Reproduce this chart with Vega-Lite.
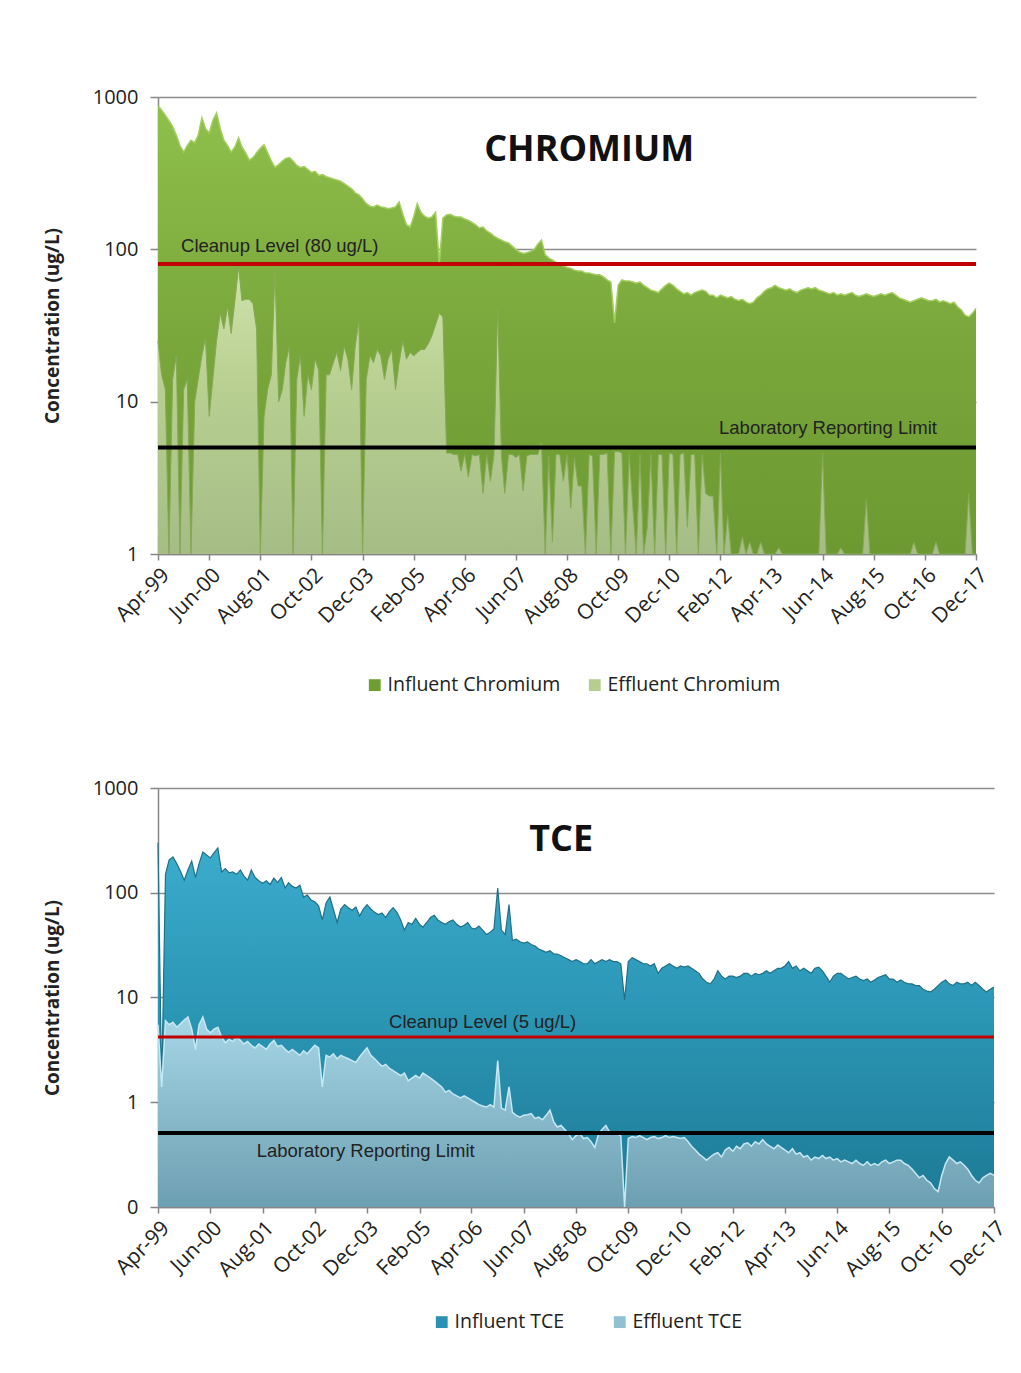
{
"$schema": "https://vega.github.io/schema/vega-lite/v6.json",
"background": "white",
"padding": {"left": 43, "top": 87, "right": 5, "bottom": 5},
"spacing": 83,
"resolve": {"scale": {"color": "independent"}},
"config": {
  "view": {"stroke": null},
  "font": "Open Sans",
  "axis": {"labelFont": "Open Sans", "labelFontSize": 20, "labelColor": "#222222", "titleFont": "Open Sans", "titleFontSize": 19, "titleFontWeight": "bold", "titleColor": "#222222", "domainColor": "#868686", "domainWidth": 1.5, "tickColor": "#868686", "tickWidth": 1.5, "gridColor": "#8c8c8c", "gridWidth": 1.5},
  "legend": {"labelFont": "Open Sans", "labelFontSize": 19.5, "labelColor": "#222222", "labelLimit": 400}
},
"datasets": {"main": [
{"d":"1999/04/01","ci":880,"ce":25,"ti":300,"te":5.5},
{"d":"1999/05/01","ci":820,"ce":15,"ti":1.4,"te":1.4},
{"d":"1999/06/01","ci":760,"ce":12,"ti":150,"te":6.0},
{"d":"1999/07/01","ci":700,"ce":1,"ti":206,"te":5.5},
{"d":"1999/08/01","ci":640,"ce":14,"ti":220,"te":5.8},
{"d":"1999/09/01","ci":560,"ce":20,"ti":190,"te":5.2},
{"d":"1999/10/01","ci":480,"ce":1,"ti":160,"te":5.6},
{"d":"1999/11/01","ci":435,"ce":12,"ti":132,"te":6.1},
{"d":"1999/12/01","ci":480,"ce":14,"ti":165,"te":6.5},
{"d":"2000/01/01","ci":520,"ce":1,"ti":200,"te":5.0},
{"d":"2000/02/01","ci":500,"ce":10,"ti":140,"te":3.2},
{"d":"2000/03/01","ci":560,"ce":14,"ti":190,"te":5.5},
{"d":"2000/04/01","ci":730,"ce":20,"ti":245,"te":6.5},
{"d":"2000/05/01","ci":620,"ce":26,"ti":230,"te":5.0},
{"d":"2000/06/01","ci":580,"ce":8,"ti":215,"te":4.6},
{"d":"2000/07/01","ci":700,"ce":14,"ti":240,"te":5.0},
{"d":"2000/08/01","ci":785,"ce":25,"ti":268,"te":5.2},
{"d":"2000/09/01","ci":620,"ce":38,"ti":158,"te":4.2},
{"d":"2000/10/01","ci":520,"ce":30,"ti":170,"te":3.7},
{"d":"2000/11/01","ci":480,"ce":42,"ti":155,"te":4.0},
{"d":"2000/12/01","ci":435,"ce":28,"ti":158,"te":3.8},
{"d":"2001/01/01","ci":470,"ce":46,"ti":150,"te":4.2},
{"d":"2001/02/01","ci":540,"ce":77,"ti":165,"te":3.9},
{"d":"2001/03/01","ci":470,"ce":46,"ti":145,"te":3.6},
{"d":"2001/04/01","ci":430,"ce":47,"ti":132,"te":3.8},
{"d":"2001/05/01","ci":385,"ce":47,"ti":165,"te":3.5},
{"d":"2001/06/01","ci":400,"ce":44,"ti":140,"te":3.3},
{"d":"2001/07/01","ci":430,"ce":30,"ti":130,"te":3.6},
{"d":"2001/08/01","ci":460,"ce":1,"ti":123,"te":3.4},
{"d":"2001/09/01","ci":485,"ce":8,"ti":130,"te":3.2},
{"d":"2001/10/01","ci":430,"ce":12,"ti":120,"te":3.6},
{"d":"2001/11/01","ci":380,"ce":15,"ti":138,"te":3.9},
{"d":"2001/12/01","ci":345,"ce":73,"ti":125,"te":3.4},
{"d":"2002/01/01","ci":360,"ce":10,"ti":140,"te":3.5},
{"d":"2002/02/01","ci":380,"ce":12,"ti":111,"te":3.2},
{"d":"2002/03/01","ci":395,"ce":18,"ti":125,"te":3.0},
{"d":"2002/04/01","ci":400,"ce":23,"ti":115,"te":3.2},
{"d":"2002/05/01","ci":380,"ce":1,"ti":111,"te":3.0},
{"d":"2002/06/01","ci":355,"ce":14,"ti":118,"te":2.8},
{"d":"2002/07/01","ci":345,"ce":20,"ti":91,"te":3.1},
{"d":"2002/08/01","ci":350,"ce":8,"ti":95,"te":2.9},
{"d":"2002/09/01","ci":335,"ce":15,"ti":85,"te":3.2},
{"d":"2002/10/01","ci":320,"ce":12,"ti":82,"te":3.5},
{"d":"2002/11/01","ci":325,"ce":19,"ti":75,"te":3.3},
{"d":"2002/12/01","ci":305,"ce":16,"ti":55,"te":1.4},
{"d":"2003/01/01","ci":310,"ce":1,"ti":80,"te":2.8},
{"d":"2003/02/01","ci":300,"ce":15,"ti":91,"te":2.7},
{"d":"2003/03/01","ci":295,"ce":15,"ti":70,"te":2.9},
{"d":"2003/04/01","ci":290,"ce":18,"ti":52,"te":2.6},
{"d":"2003/05/01","ci":285,"ce":21,"ti":70,"te":2.8},
{"d":"2003/06/01","ci":280,"ce":16,"ti":77,"te":2.7},
{"d":"2003/07/01","ci":270,"ce":23,"ti":72,"te":2.6},
{"d":"2003/08/01","ci":260,"ce":19,"ti":68,"te":2.5},
{"d":"2003/09/01","ci":250,"ce":12,"ti":73,"te":2.4},
{"d":"2003/10/01","ci":235,"ce":23,"ti":60,"te":2.7},
{"d":"2003/11/01","ci":228,"ce":34,"ti":70,"te":3.0},
{"d":"2003/12/01","ci":215,"ce":1,"ti":77,"te":3.3},
{"d":"2004/01/01","ci":200,"ce":14,"ti":70,"te":2.8},
{"d":"2004/02/01","ci":192,"ce":20,"ti":65,"te":2.6},
{"d":"2004/03/01","ci":190,"ce":18,"ti":62,"te":2.4},
{"d":"2004/04/01","ci":195,"ce":22,"ti":64,"te":2.2},
{"d":"2004/05/01","ci":190,"ce":20,"ti":58,"te":2.3},
{"d":"2004/06/01","ci":188,"ce":14,"ti":66,"te":2.1},
{"d":"2004/07/01","ci":185,"ce":19,"ti":72,"te":2.0},
{"d":"2004/08/01","ci":187,"ce":22,"ti":65,"te":1.9},
{"d":"2004/09/01","ci":190,"ce":12,"ti":55,"te":1.8},
{"d":"2004/10/01","ci":205,"ce":18,"ti":44,"te":1.9},
{"d":"2004/11/01","ci":170,"ce":25,"ti":52,"te":1.6},
{"d":"2004/12/01","ci":145,"ce":19,"ti":50,"te":1.7},
{"d":"2005/01/01","ci":140,"ce":21,"ti":57,"te":1.8},
{"d":"2005/02/01","ci":165,"ce":20,"ti":50,"te":1.7},
{"d":"2005/03/01","ci":200,"ce":21,"ti":47,"te":1.9},
{"d":"2005/04/01","ci":175,"ce":22,"ti":52,"te":1.8},
{"d":"2005/05/01","ci":165,"ce":22,"ti":58,"te":1.7},
{"d":"2005/06/01","ci":160,"ce":24,"ti":61,"te":1.6},
{"d":"2005/07/01","ci":163,"ce":27,"ti":55,"te":1.5},
{"d":"2005/08/01","ci":175,"ce":32,"ti":52,"te":1.4},
{"d":"2005/09/01","ci":80,"ce":38,"ti":50,"te":1.25},
{"d":"2005/10/01","ci":160,"ce":36,"ti":53,"te":1.3},
{"d":"2005/11/01","ci":168,"ce":4.6,"ti":55,"te":1.2},
{"d":"2005/12/01","ci":170,"ce":4.6,"ti":50,"te":1.15},
{"d":"2006/01/01","ci":165,"ce":4.5,"ti":47,"te":1.1},
{"d":"2006/02/01","ci":163,"ce":4.5,"ti":49,"te":1.15},
{"d":"2006/03/01","ci":163,"ce":3.5,"ti":52,"te":1.1},
{"d":"2006/04/01","ci":158,"ce":4.5,"ti":46,"te":1.05},
{"d":"2006/05/01","ci":155,"ce":3.2,"ti":45,"te":1.0},
{"d":"2006/06/01","ci":150,"ce":4.5,"ti":48,"te":0.95},
{"d":"2006/07/01","ci":145,"ce":4.4,"ti":44,"te":0.92},
{"d":"2006/08/01","ci":138,"ce":4.5,"ti":40,"te":0.9},
{"d":"2006/09/01","ci":140,"ce":2.5,"ti":42,"te":0.95},
{"d":"2006/10/01","ci":132,"ce":4.5,"ti":45,"te":0.9},
{"d":"2006/11/01","ci":128,"ce":3,"ti":111,"te":2.5},
{"d":"2006/12/01","ci":122,"ce":4.5,"ti":44,"te":0.88},
{"d":"2007/01/01","ci":118,"ce":42,"ti":40,"te":0.84},
{"d":"2007/02/01","ci":115,"ce":4.4,"ti":77,"te":1.4},
{"d":"2007/03/01","ci":112,"ce":2.5,"ti":35,"te":0.8},
{"d":"2007/04/01","ci":110,"ce":4.5,"ti":36,"te":0.75},
{"d":"2007/05/01","ci":105,"ce":4.5,"ti":34,"te":0.72},
{"d":"2007/06/01","ci":100,"ce":4.3,"ti":33,"te":0.75},
{"d":"2007/07/01","ci":96,"ce":4.5,"ti":34,"te":0.76},
{"d":"2007/08/01","ci":94,"ce":2.6,"ti":32,"te":0.78},
{"d":"2007/09/01","ci":95,"ce":4.4,"ti":31,"te":0.7},
{"d":"2007/10/01","ci":97,"ce":4.5,"ti":29,"te":0.72},
{"d":"2007/11/01","ci":100,"ce":4.5,"ti":28,"te":0.68},
{"d":"2007/12/01","ci":108,"ce":4.5,"ti":27,"te":0.75},
{"d":"2008/01/01","ci":115,"ce":5.4,"ti":28,"te":0.84},
{"d":"2008/02/01","ci":92,"ce":1,"ti":26,"te":0.65},
{"d":"2008/03/01","ci":88,"ce":4.4,"ti":26,"te":0.58},
{"d":"2008/04/01","ci":85,"ce":1.2,"ti":25,"te":0.6},
{"d":"2008/05/01","ci":82,"ce":4.5,"ti":24,"te":0.55},
{"d":"2008/06/01","ci":80,"ce":4.5,"ti":23,"te":0.5},
{"d":"2008/07/01","ci":78,"ce":3,"ti":22,"te":0.44},
{"d":"2008/08/01","ci":76,"ce":4.5,"ti":23,"te":0.48},
{"d":"2008/09/01","ci":75,"ce":2,"ti":22,"te":0.5},
{"d":"2008/10/01","ci":73,"ce":4.3,"ti":21,"te":0.45},
{"d":"2008/11/01","ci":72,"ce":2.8,"ti":21,"te":0.46},
{"d":"2008/12/01","ci":72,"ce":2.8,"ti":23,"te":0.42},
{"d":"2009/01/01","ci":70,"ce":1,"ti":21,"te":0.37},
{"d":"2009/02/01","ci":70,"ce":4.5,"ti":22,"te":0.5},
{"d":"2009/03/01","ci":69,"ce":4.4,"ti":23,"te":0.55},
{"d":"2009/04/01","ci":68,"ce":1,"ti":22,"te":0.6},
{"d":"2009/05/01","ci":68,"ce":4.5,"ti":23,"te":0.52},
{"d":"2009/06/01","ci":66,"ce":4.5,"ti":22,"te":0.5},
{"d":"2009/07/01","ci":63,"ce":4.6,"ti":22,"te":0.5},
{"d":"2009/08/01","ci":61,"ce":1,"ti":21,"te":0.48},
{"d":"2009/09/01","ci":33,"ce":4.7,"ti":9.5,"te":0.1},
{"d":"2009/10/01","ci":58,"ce":4.7,"ti":22,"te":0.45},
{"d":"2009/11/01","ci":63,"ce":4.6,"ti":24,"te":0.47},
{"d":"2009/12/01","ci":62,"ce":1,"ti":23,"te":0.46},
{"d":"2010/01/01","ci":62,"ce":4.5,"ti":22,"te":0.48},
{"d":"2010/02/01","ci":61,"ce":2,"ti":21,"te":0.46},
{"d":"2010/03/01","ci":60,"ce":1,"ti":21,"te":0.44},
{"d":"2010/04/01","ci":61,"ce":4.5,"ti":20,"te":0.46},
{"d":"2010/05/01","ci":58,"ce":1,"ti":21,"te":0.47},
{"d":"2010/06/01","ci":56,"ce":1.5,"ti":17,"te":0.45},
{"d":"2010/07/01","ci":54,"ce":4.5,"ti":19,"te":0.46},
{"d":"2010/08/01","ci":53,"ce":1,"ti":20,"te":0.48},
{"d":"2010/09/01","ci":52,"ce":4.5,"ti":21,"te":0.46},
{"d":"2010/10/01","ci":55,"ce":4.5,"ti":20,"te":0.47},
{"d":"2010/11/01","ci":58,"ce":1,"ti":19,"te":0.46},
{"d":"2010/12/01","ci":60,"ce":4.6,"ti":20,"te":0.45},
{"d":"2011/01/01","ci":58,"ce":4.5,"ti":19.5,"te":0.46},
{"d":"2011/02/01","ci":55,"ce":1,"ti":20,"te":0.42},
{"d":"2011/03/01","ci":53,"ce":4.5,"ti":19,"te":0.38},
{"d":"2011/04/01","ci":51,"ce":4.6,"ti":18,"te":0.35},
{"d":"2011/05/01","ci":52,"ce":1.5,"ti":17,"te":0.32},
{"d":"2011/06/01","ci":50,"ce":4.5,"ti":15,"te":0.3},
{"d":"2011/07/01","ci":52,"ce":4.5,"ti":14,"te":0.28},
{"d":"2011/08/01","ci":53,"ce":1,"ti":13.5,"te":0.3},
{"d":"2011/09/01","ci":54,"ce":4.5,"ti":15,"te":0.32},
{"d":"2011/10/01","ci":53,"ce":2.5,"ti":18,"te":0.33},
{"d":"2011/11/01","ci":50,"ce":2.4,"ti":16,"te":0.3},
{"d":"2011/12/01","ci":50,"ce":2.4,"ti":15,"te":0.35},
{"d":"2012/01/01","ci":48,"ce":1,"ti":16,"te":0.37},
{"d":"2012/02/01","ci":50,"ce":4.6,"ti":16,"te":0.34},
{"d":"2012/03/01","ci":49,"ce":1,"ti":15.5,"te":0.38},
{"d":"2012/04/01","ci":48,"ce":1.8,"ti":16,"te":0.36},
{"d":"2012/05/01","ci":49,"ce":1,"ti":17,"te":0.4},
{"d":"2012/06/01","ci":47,"ce":1,"ti":17,"te":0.41},
{"d":"2012/07/01","ci":46,"ce":1,"ti":16,"te":0.38},
{"d":"2012/08/01","ci":47,"ce":1.3,"ti":17,"te":0.42},
{"d":"2012/09/01","ci":45,"ce":1,"ti":16.5,"te":0.4},
{"d":"2012/10/01","ci":44,"ce":1.2,"ti":17,"te":0.44},
{"d":"2012/11/01","ci":45,"ce":1,"ti":18,"te":0.4},
{"d":"2012/12/01","ci":48,"ce":1,"ti":17,"te":0.38},
{"d":"2013/01/01","ci":50,"ce":1.2,"ti":18,"te":0.36},
{"d":"2013/02/01","ci":53,"ce":1,"ti":19,"te":0.39},
{"d":"2013/03/01","ci":55,"ce":1,"ti":19,"te":0.37},
{"d":"2013/04/01","ci":56,"ce":1,"ti":20,"te":0.35},
{"d":"2013/05/01","ci":58,"ce":1,"ti":22,"te":0.33},
{"d":"2013/06/01","ci":56,"ce":1.1,"ti":19,"te":0.36},
{"d":"2013/07/01","ci":55,"ce":1,"ti":20,"te":0.32},
{"d":"2013/08/01","ci":54,"ce":1,"ti":18,"te":0.33},
{"d":"2013/09/01","ci":55,"ce":1,"ti":19,"te":0.3},
{"d":"2013/10/01","ci":53,"ce":1,"ti":18,"te":0.31},
{"d":"2013/11/01","ci":52,"ce":1,"ti":17,"te":0.28},
{"d":"2013/12/01","ci":54,"ce":1,"ti":19,"te":0.3},
{"d":"2014/01/01","ci":55,"ce":1,"ti":19.5,"te":0.29},
{"d":"2014/02/01","ci":56,"ce":1,"ti":18,"te":0.31},
{"d":"2014/03/01","ci":55,"ce":1,"ti":16,"te":0.29},
{"d":"2014/04/01","ci":56,"ce":1,"ti":14,"te":0.3},
{"d":"2014/05/01","ci":54,"ce":1,"ti":16,"te":0.28},
{"d":"2014/06/01","ci":53,"ce":4.6,"ti":17,"te":0.29},
{"d":"2014/07/01","ci":52,"ce":1,"ti":17,"te":0.27},
{"d":"2014/08/01","ci":51,"ce":1,"ti":16,"te":0.28},
{"d":"2014/09/01","ci":52,"ce":1,"ti":15,"te":0.27},
{"d":"2014/10/01","ci":50,"ce":1,"ti":15.5,"te":0.26},
{"d":"2014/11/01","ci":51,"ce":1.1,"ti":16,"te":0.28},
{"d":"2014/12/01","ci":50,"ce":1,"ti":15,"te":0.26},
{"d":"2015/01/01","ci":51,"ce":1,"ti":14.5,"te":0.25},
{"d":"2015/02/01","ci":52,"ce":1,"ti":15,"te":0.27},
{"d":"2015/03/01","ci":50,"ce":1,"ti":14,"te":0.25},
{"d":"2015/04/01","ci":49,"ce":1,"ti":14.7,"te":0.26},
{"d":"2015/05/01","ci":50,"ce":1,"ti":15.5,"te":0.25},
{"d":"2015/06/01","ci":51,"ce":2.3,"ti":16,"te":0.27},
{"d":"2015/07/01","ci":50,"ce":1,"ti":16.5,"te":0.28},
{"d":"2015/08/01","ci":49,"ce":1,"ti":15,"te":0.26},
{"d":"2015/09/01","ci":50,"ce":1,"ti":15,"te":0.27},
{"d":"2015/10/01","ci":51,"ce":1,"ti":14,"te":0.28},
{"d":"2015/11/01","ci":50,"ce":1,"ti":14.7,"te":0.28},
{"d":"2015/12/01","ci":51,"ce":1,"ti":14,"te":0.26},
{"d":"2016/01/01","ci":52,"ce":1,"ti":13.5,"te":0.25},
{"d":"2016/02/01","ci":50,"ce":1,"ti":13.5,"te":0.23},
{"d":"2016/03/01","ci":48,"ce":1,"ti":13,"te":0.21},
{"d":"2016/04/01","ci":47,"ce":1,"ti":13,"te":0.19},
{"d":"2016/05/01","ci":46,"ce":1,"ti":12,"te":0.2},
{"d":"2016/06/01","ci":45,"ce":1,"ti":11.5,"te":0.18},
{"d":"2016/07/01","ci":46,"ce":1.2,"ti":11.3,"te":0.17},
{"d":"2016/08/01","ci":47,"ce":1,"ti":12,"te":0.15},
{"d":"2016/09/01","ci":48,"ce":1,"ti":13,"te":0.14},
{"d":"2016/10/01","ci":47,"ce":1,"ti":14,"te":0.2},
{"d":"2016/11/01","ci":46,"ce":1,"ti":14.7,"te":0.26},
{"d":"2016/12/01","ci":46,"ce":1,"ti":13.5,"te":0.3},
{"d":"2017/01/01","ci":47,"ce":1.2,"ti":13,"te":0.28},
{"d":"2017/02/01","ci":45,"ce":1,"ti":14,"te":0.26},
{"d":"2017/03/01","ci":46,"ce":1,"ti":13.5,"te":0.27},
{"d":"2017/04/01","ci":45,"ce":1,"ti":13.5,"te":0.25},
{"d":"2017/05/01","ci":44,"ce":1,"ti":14,"te":0.23},
{"d":"2017/06/01","ci":45,"ce":1,"ti":13,"te":0.2},
{"d":"2017/07/01","ci":42,"ce":1,"ti":14,"te":0.18},
{"d":"2017/08/01","ci":40,"ce":1,"ti":13,"te":0.17},
{"d":"2017/09/01","ci":37,"ce":1,"ti":12,"te":0.19},
{"d":"2017/10/01","ci":36,"ce":2.5,"ti":11.3,"te":0.2},
{"d":"2017/11/01","ci":38,"ce":1,"ti":12,"te":0.21},
{"d":"2017/12/01","ci":41,"ce":1,"ti":12.6,"te":0.2}
],
"one": [{}]
},
"vconcat": [
{
  "width": 818, "height": 457,
  "data": {"name": "main"},
  "layer": [
    {"mark": {"type": "area", "opacity": 1, "fill": {"gradient": "linear", "x1": 0, "y1": 0, "x2": 0, "y2": 1, "stops": [{"offset": 0, "color": "#8fbf4b"}, {"offset": 0.5, "color": "#7aa83c"}, {"offset": 1, "color": "#6c9931"}]}, "line": {"color": "#a3cf5e", "strokeWidth": 1.5, "opacity": 1}},
     "encoding": {
       "x": {"field": "d", "type": "temporal", "scale": {"domain": [{"year": 1999, "month": 4, "date": 1}, {"year": 2017, "month": 12, "date": 1}]},
             "axis": {"title": null, "format": "%b-%y", "labelAngle": -45, "labelPadding": 4, "labelFontSize": 21, "tickSize": 6, "grid": false, "labelOverlap": false, "labelFlush": false,
                      "values": [{"year":1999,"month":4,"date":1},{"year":2000,"month":6,"date":1},{"year":2001,"month":8,"date":1},{"year":2002,"month":10,"date":1},{"year":2003,"month":12,"date":1},{"year":2005,"month":2,"date":1},{"year":2006,"month":4,"date":1},{"year":2007,"month":6,"date":1},{"year":2008,"month":8,"date":1},{"year":2009,"month":10,"date":1},{"year":2010,"month":12,"date":1},{"year":2012,"month":2,"date":1},{"year":2013,"month":4,"date":1},{"year":2014,"month":6,"date":1},{"year":2015,"month":8,"date":1},{"year":2016,"month":10,"date":1},{"year":2017,"month":12,"date":1}]}},
       "y": {"field": "ci", "type": "quantitative", "scale": {"type": "log", "domain": [1, 1000], "nice": false},
             "axis": {"title": "Concentration (ug/L)", "values": [1, 10, 100, 1000], "format": "d", "grid": true, "tickSize": 8, "labelPadding": 12, "titlePadding": 30}},
       "y2": {"datum": 1}
     }},
    {"mark": {"type": "area", "opacity": 1, "fill": {"gradient": "linear", "x1": 0, "y1": 0, "x2": 0, "y2": 1, "stops": [{"offset": 0, "color": "#cfe3ab"}, {"offset": 0.4, "color": "#b9d092"}, {"offset": 1, "color": "#a5bc86"}]}, "line": {"color": "#86a955", "strokeWidth": 1, "opacity": 1}},
     "encoding": {"x": {"field": "d", "type": "temporal"}, "y": {"field": "ce", "type": "quantitative"}, "y2": {"datum": 1}}},
    {"data": {"name": "one"}, "mark": {"type": "rule", "color": "#c00000", "strokeWidth": 4}, "encoding": {"y": {"datum": 80}}},
    {"data": {"name": "one"}, "mark": {"type": "rule", "color": "#000000", "strokeWidth": 4}, "encoding": {"y": {"datum": 5}}},
    {"data": {"name": "one"}, "mark": {"type": "text", "text": "CHROMIUM", "font": "Open Sans", "fontSize": 36, "fontWeight": "bold", "color": "#111111", "align": "center", "baseline": "middle"},
     "encoding": {"x": {"datum": {"year": 2009, "month": 2, "date": 1}, "type": "temporal"}, "y": {"datum": 450, "type": "quantitative"}}},
    {"data": {"name": "one"}, "mark": {"type": "text", "text": "Cleanup Level (80 ug/L)", "font": "Liberation Sans", "fontSize": 18.5, "color": "#222222", "align": "left", "baseline": "middle"},
     "encoding": {"x": {"datum": {"year": 1999, "month": 10, "date": 10}, "type": "temporal"}, "y": {"datum": 105, "type": "quantitative"}}},
    {"data": {"name": "one"}, "mark": {"type": "text", "text": "Laboratory Reporting Limit", "font": "Liberation Sans", "fontSize": 18.5, "color": "#222222", "align": "right", "baseline": "middle"},
     "encoding": {"x": {"datum": {"year": 2017, "month": 1, "date": 10}, "type": "temporal"}, "y": {"datum": 6.7, "type": "quantitative"}}},
    {"mark": {"type": "square", "opacity": 0},
     "encoding": {"x": {"field": "d", "type": "temporal"}, "y": {"field": "ci", "type": "quantitative"},
       "color": {"datum": "Influent Chromium", "type": "nominal", "scale": {"domain": ["Influent Chromium", "Effluent Chromium"], "range": ["#6f9e33", "#b5cd8f"]},
         "legend": {"title": null, "orient": "none", "legendX": 207, "legendY": 578, "direction": "horizontal", "symbolType": "square", "symbolSize": 140, "symbolOpacity": 1, "symbolStrokeWidth": 0, "columnPadding": 24, "labelOffset": 3, "labelFontSize": 19.5, "labelLimit": 400}}}},
    {"mark": {"type": "square", "opacity": 0},
     "encoding": {"x": {"field": "d", "type": "temporal"}, "y": {"field": "ce", "type": "quantitative"},
       "color": {"datum": "Effluent Chromium", "type": "nominal"}}}
  ]
},
{
  "width": 836, "height": 419,
  "data": {"name": "main"},
  "layer": [
    {"mark": {"type": "area", "opacity": 1, "fill": {"gradient": "linear", "x1": 0, "y1": 0, "x2": 0, "y2": 1, "stops": [{"offset": 0, "color": "#3caccd"}, {"offset": 0.5, "color": "#2a94b3"}, {"offset": 1, "color": "#1d7a95"}]}, "line": {"color": "#1f7088", "strokeWidth": 1.2, "opacity": 1}},
     "encoding": {
       "x": {"field": "d", "type": "temporal", "scale": {"domain": [{"year": 1999, "month": 4, "date": 1}, {"year": 2017, "month": 12, "date": 1}]},
             "axis": {"title": null, "format": "%b-%y", "labelAngle": -45, "labelPadding": 4, "labelFontSize": 21, "tickSize": 6, "grid": false, "labelOverlap": false, "labelFlush": false,
                      "values": [{"year":1999,"month":4,"date":1},{"year":2000,"month":6,"date":1},{"year":2001,"month":8,"date":1},{"year":2002,"month":10,"date":1},{"year":2003,"month":12,"date":1},{"year":2005,"month":2,"date":1},{"year":2006,"month":4,"date":1},{"year":2007,"month":6,"date":1},{"year":2008,"month":8,"date":1},{"year":2009,"month":10,"date":1},{"year":2010,"month":12,"date":1},{"year":2012,"month":2,"date":1},{"year":2013,"month":4,"date":1},{"year":2014,"month":6,"date":1},{"year":2015,"month":8,"date":1},{"year":2016,"month":10,"date":1},{"year":2017,"month":12,"date":1}]}},
       "y": {"field": "ti", "type": "quantitative", "scale": {"type": "log", "domain": [0.1, 1000], "nice": false},
             "axis": {"title": "Concentration (ug/L)", "values": [0.1, 1, 10, 100, 1000], "labelExpr": "datum.value < 1 ? '0' : format(datum.value, 'd')", "grid": true, "tickSize": 8, "labelPadding": 12, "titlePadding": 30}},
       "y2": {"datum": 0.1}
     }},
    {"mark": {"type": "area", "opacity": 1, "fill": {"gradient": "linear", "x1": 0, "y1": 0, "x2": 0, "y2": 1, "stops": [{"offset": 0, "color": "#a6d6e6"}, {"offset": 1, "color": "#6c9fb1"}]}, "line": {"color": "#c6e8f3", "strokeWidth": 1.5, "opacity": 1}},
     "encoding": {"x": {"field": "d", "type": "temporal"}, "y": {"field": "te", "type": "quantitative"}, "y2": {"datum": 0.1}}},
    {"data": {"name": "one"}, "mark": {"type": "rule", "color": "#c00000", "strokeWidth": 3}, "encoding": {"y": {"datum": 4.2}}},
    {"data": {"name": "one"}, "mark": {"type": "rule", "color": "#000000", "strokeWidth": 4}, "encoding": {"y": {"datum": 0.51}}},
    {"data": {"name": "one"}, "mark": {"type": "text", "text": "TCE", "font": "Open Sans", "fontSize": 36, "fontWeight": "bold", "color": "#111111", "align": "center", "baseline": "middle"},
     "encoding": {"x": {"datum": {"year": 2008, "month": 4, "date": 1}, "type": "temporal"}, "y": {"datum": 319, "type": "quantitative"}}},
    {"data": {"name": "one"}, "mark": {"type": "text", "text": "Cleanup Level (5 ug/L)", "font": "Liberation Sans", "fontSize": 18.5, "color": "#222222", "align": "center", "baseline": "middle"},
     "encoding": {"x": {"datum": {"year": 2006, "month": 7, "date": 1}, "type": "temporal"}, "y": {"datum": 5.8, "type": "quantitative"}}},
    {"data": {"name": "one"}, "mark": {"type": "text", "text": "Laboratory Reporting Limit", "font": "Liberation Sans", "fontSize": 18.5, "color": "#222222", "align": "center", "baseline": "middle"},
     "encoding": {"x": {"datum": {"year": 2003, "month": 11, "date": 20}, "type": "temporal"}, "y": {"datum": 0.343, "type": "quantitative"}}},
    {"mark": {"type": "square", "opacity": 0},
     "encoding": {"x": {"field": "d", "type": "temporal"}, "y": {"field": "ti", "type": "quantitative"},
       "color": {"datum": "Influent TCE", "type": "nominal", "scale": {"domain": ["Influent TCE", "Effluent TCE"], "range": ["#2a93b3", "#8ec1d2"]},
         "legend": {"title": null, "orient": "none", "legendX": 274, "legendY": 524, "direction": "horizontal", "symbolType": "square", "symbolSize": 140, "symbolOpacity": 1, "symbolStrokeWidth": 0, "columnPadding": 45, "labelOffset": 3, "labelFontSize": 19.5, "labelLimit": 400}}}},
    {"mark": {"type": "square", "opacity": 0},
     "encoding": {"x": {"field": "d", "type": "temporal"}, "y": {"field": "te", "type": "quantitative"},
       "color": {"datum": "Effluent TCE", "type": "nominal"}}}
  ]
}
]
}
